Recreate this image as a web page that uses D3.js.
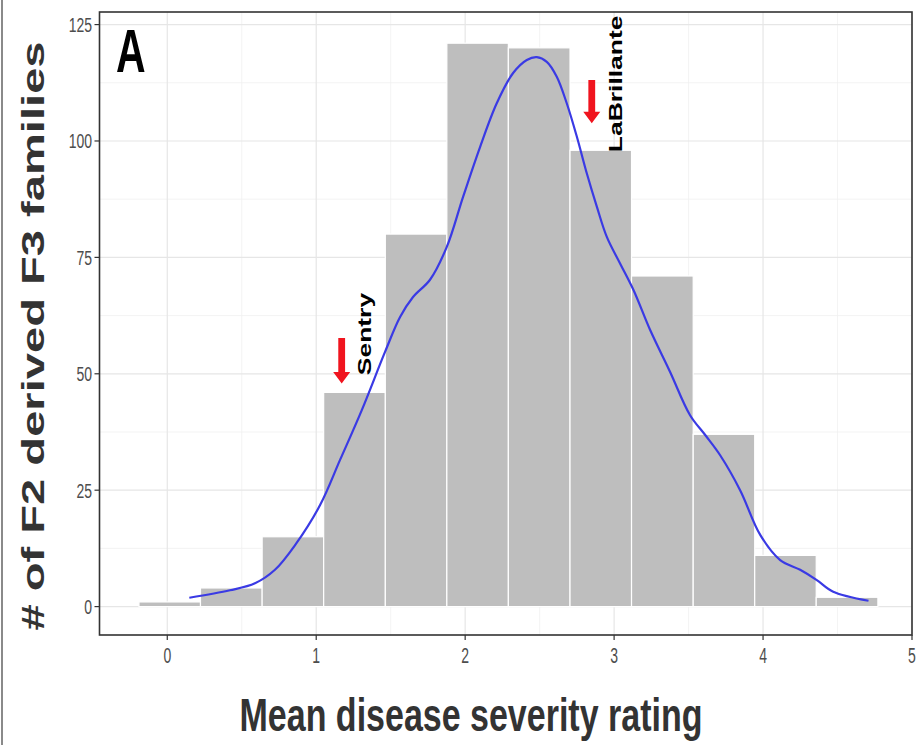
<!DOCTYPE html>
<html>
<head>
<meta charset="utf-8">
<script src="https://cdn.jsdelivr.net/npm/d3@7"></script>
<style>
  html, body { margin: 0; padding: 0; background: #fff; }
  svg { display: block; font-family: "Liberation Sans", Arial, Helvetica, sans-serif; }
</style>
</head>
<body>
<svg id="chart" width="919" height="745"></svg>
<script>
// ---- data ----
const binEdges = [-0.190, 0.223, 0.637, 1.050, 1.464, 1.877, 2.290, 2.704, 3.117, 3.531, 3.944, 4.357, 4.771];
const counts   = [1, 4, 15, 46, 80, 121, 120, 98, 71, 37, 11, 2];

const densityX = [0.148, 0.421, 0.589, 0.723, 0.858, 1.026, 1.160, 1.306, 1.462, 1.563, 1.650, 1.764, 1.876, 1.986,
                  2.100, 2.212, 2.322, 2.414, 2.481, 2.548, 2.615, 2.682, 2.750, 2.817, 2.884, 2.951, 3.040, 3.130,
                  3.242, 3.376, 3.510, 3.613, 3.712, 3.846, 3.981, 4.115, 4.249, 4.361, 4.471, 4.708];
const densityY = [1.9, 3.5, 5.0, 7.9, 13.2, 21.8, 31.5, 42.2, 54.7, 62.2, 66.5, 70.2, 77.2, 88.0,
                  98.7, 108.1, 114.6, 117.4, 118.0, 117.0, 113.8, 108.1, 100.9, 93.0, 85.9, 79.4, 73.7, 68.0,
                  59.4, 50.4, 41.1, 36.8, 32.5, 25.0, 15.4, 10.0, 7.9, 5.7, 3.2, 1.25];

const xTicks = [0, 1, 2, 3, 4, 5];
const xMinor = [0.5, 1.5, 2.5, 3.5, 4.5];
const yTicks = [0, 25, 50, 75, 100, 125];
const yMinor = [12.5, 37.5, 62.5, 87.5, 112.5];

const arrowX    = [1.171, 2.850];
const arrowTop  = [57.7, 113.1];
const arrowTip  = [47.9, 103.8];
const labelText = ["Sentry", "LaBrillante"];
const labelX    = [1.368, 3.054];
const labelY    = [49.7, 97.6];

const panelTag = "A";
const xTitle = "Mean disease severity rating";
const yTitle = "# of F2 derived F3 families";

// ---- layout ----
const svg = d3.select("#chart");
const P = { left: 99.5, right: 912, top: 12, bottom: 635 };

const x = d3.scaleLinear().domain([-0.455, 5.0]).range([P.left, P.right]);
const y = d3.scaleLinear().domain([-6.1, 127.7]).range([P.bottom, P.top]);

// outer frame line (left)
svg.append("line").attr("x1", 2).attr("x2", 2).attr("y1", 0).attr("y2", 745)
  .attr("stroke", "#8a8a8a").attr("stroke-width", 2);

// panel background
svg.append("rect").attr("x", P.left).attr("y", P.top)
  .attr("width", P.right - P.left).attr("height", P.bottom - P.top).attr("fill", "#fff");

const grid = svg.append("g");
grid.selectAll(".vminor").data(xMinor).join("line")
  .attr("x1", d => x(d)).attr("x2", d => x(d)).attr("y1", P.top).attr("y2", P.bottom)
  .attr("stroke", "#f0f0f0").attr("stroke-width", 0.8);
grid.selectAll(".hminor").data(yMinor).join("line")
  .attr("x1", P.left).attr("x2", P.right).attr("y1", d => y(d)).attr("y2", d => y(d))
  .attr("stroke", "#f0f0f0").attr("stroke-width", 0.8);
grid.selectAll(".vmajor").data(xTicks).join("line")
  .attr("x1", d => x(d)).attr("x2", d => x(d)).attr("y1", P.top).attr("y2", P.bottom)
  .attr("stroke", "#e6e6e6").attr("stroke-width", 1.2);
grid.selectAll(".hmajor").data(yTicks).join("line")
  .attr("x1", P.left).attr("x2", P.right).attr("y1", d => y(d)).attr("y2", d => y(d))
  .attr("stroke", "#e6e6e6").attr("stroke-width", 1.2);

// bars
const bins = counts.map((c, i) => ({ x0: binEdges[i], x1: binEdges[i + 1], c }));
svg.append("g").selectAll("rect").data(bins).join("rect")
  .attr("x", d => x(d.x0)).attr("width", d => x(d.x1) - x(d.x0))
  .attr("y", d => y(d.c)).attr("height", d => y(0) - y(d.c))
  .attr("fill", "#bebebe").attr("stroke", "#ffffff").attr("stroke-width", 1.2);

// density curve
const pts = densityX.map((d, i) => [d, densityY[i]]);
svg.append("path").datum(pts)
  .attr("d", d3.line().x(d => x(d[0])).y(d => y(d[1])).curve(d3.curveCatmullRom.alpha(0.5)))
  .attr("fill", "none").attr("stroke", "#3a3ae4").attr("stroke-width", 2.2);

// arrows
arrowX.forEach((ax, i) => {
  const cx = x(ax), yt = y(arrowTop[i]), yp = y(arrowTip[i]);
  const sw = 3.4, hw = 8.5, hl = 11.5;
  const p = d3.path();
  p.moveTo(cx - sw, yt); p.lineTo(cx + sw, yt); p.lineTo(cx + sw, yp - hl);
  p.lineTo(cx + hw, yp - hl); p.lineTo(cx, yp); p.lineTo(cx - hw, yp - hl);
  p.lineTo(cx - sw, yp - hl); p.closePath();
  svg.append("path").attr("d", p.toString()).attr("fill", "#f0141e");
});

// labels (rotated)
labelText.forEach((t, i) => {
  svg.append("text")
    .attr("transform", `translate(${x(labelX[i])},${y(labelY[i])}) rotate(-90) scale(1.47,1)`)
    .attr("font-size", 18).attr("font-weight", "bold").attr("fill", "#000")
    .attr("text-anchor", "start").text(t);
});

// panel border
svg.append("rect").attr("x", P.left).attr("y", P.top)
  .attr("width", P.right - P.left).attr("height", P.bottom - P.top)
  .attr("fill", "none").attr("stroke", "#333").attr("stroke-width", 1.6);

// axes ticks
svg.append("g").selectAll("line").data(xTicks).join("line")
  .attr("x1", d => x(d)).attr("x2", d => x(d)).attr("y1", P.bottom).attr("y2", P.bottom + 5)
  .attr("stroke", "#333").attr("stroke-width", 1.2);
svg.append("g").selectAll("text").data(xTicks).join("text")
  .attr("transform", d => `translate(${x(d)},663) scale(1,1.55)`)
  .attr("text-anchor", "middle").attr("font-size", 14).attr("fill", "#4d4d4d").text(d => d);

svg.append("g").selectAll("line").data(yTicks).join("line")
  .attr("x1", P.left - 5).attr("x2", P.left).attr("y1", d => y(d)).attr("y2", d => y(d))
  .attr("stroke", "#333").attr("stroke-width", 1.2);
svg.append("g").selectAll("text").data(yTicks).join("text")
  .attr("transform", d => `translate(92,${y(d) + 7.5}) scale(1,1.5)`)
  .attr("text-anchor", "end").attr("font-size", 14).attr("fill", "#4d4d4d").text(d => d);

// panel tag
svg.append("text").attr("transform", "translate(116,72) scale(1,1.47)")
  .attr("font-size", 41).attr("font-weight", "bold").attr("fill", "#000").text(panelTag);

// axis titles
svg.append("text").attr("transform", "translate(471,731) scale(1,1.36)")
  .attr("text-anchor", "middle").attr("font-size", 34).attr("font-weight", "bold")
  .attr("fill", "#333").text(xTitle);
svg.append("text").attr("transform", "translate(44,336) rotate(-90) scale(1.52,1)")
  .attr("text-anchor", "middle").attr("font-size", 31).attr("font-weight", "bold")
  .attr("fill", "#333").text(yTitle);
</script>
</body>
</html>
